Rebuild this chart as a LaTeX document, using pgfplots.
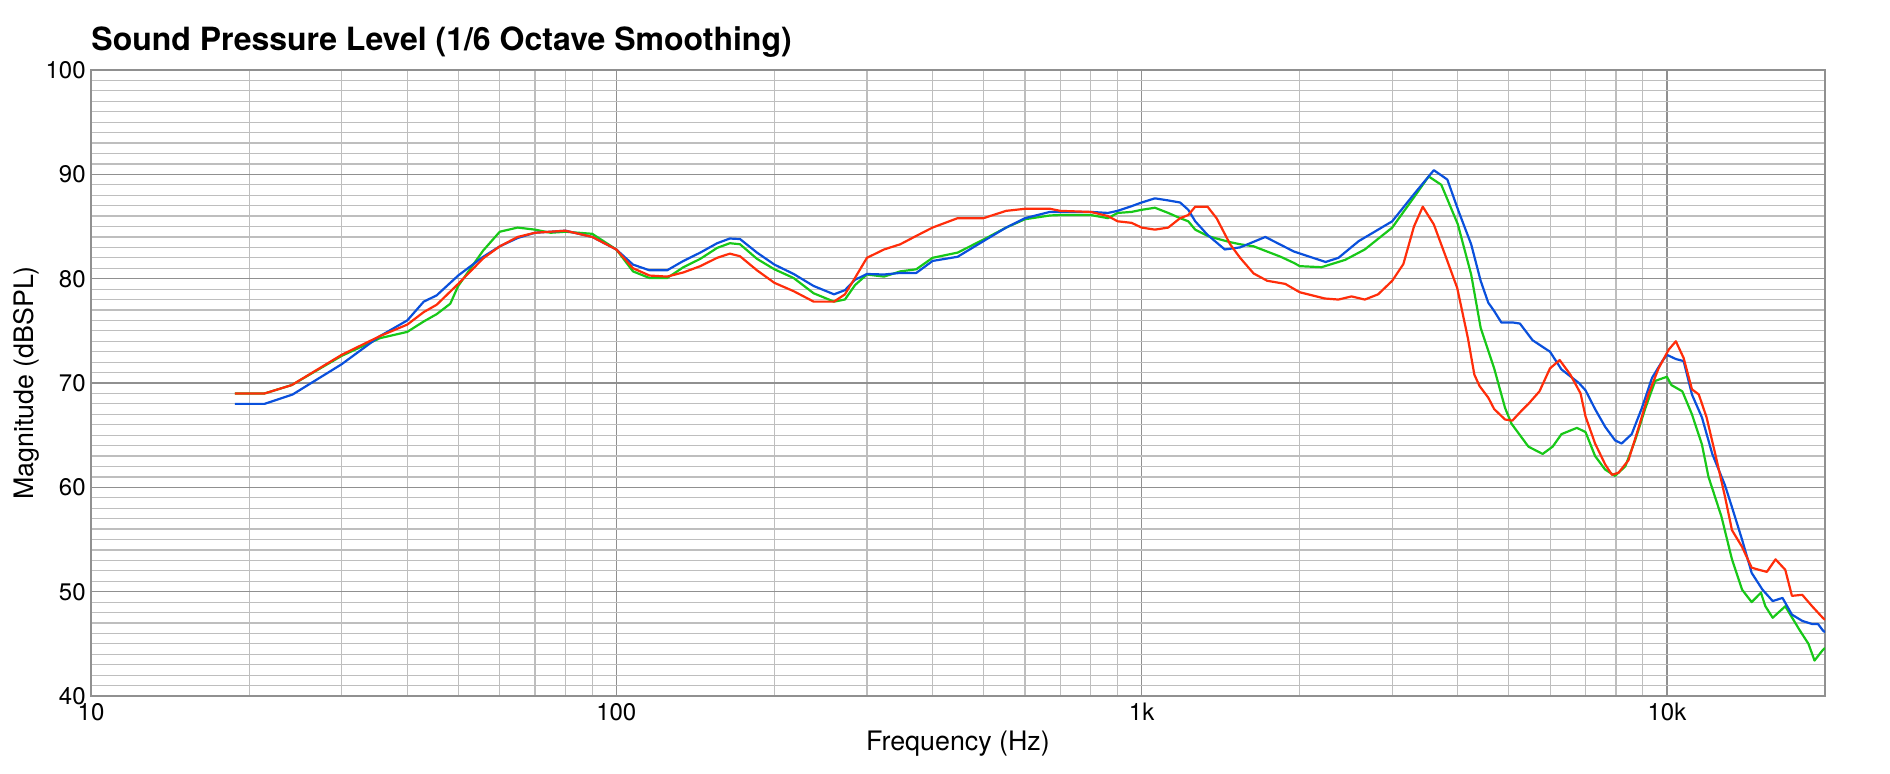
\documentclass[border=0pt]{standalone}
\usepackage{fontspec}
\setmainfont{TeX Gyre Heros}
\usepackage{pgfplots}
\pgfplotsset{compat=1.18}
\definecolor{cRed}{HTML}{FF2D0A}
\definecolor{cGreen}{HTML}{18C818}
\definecolor{cBlue}{HTML}{0A50DC}
\definecolor{gMaj}{HTML}{909090}
\definecolor{gMin}{HTML}{BEBEBE}
\begin{document}
\begin{tikzpicture}
\useasboundingbox (0,0) rectangle (945pt,386.5pt);
\begin{axis}[
  at={(45.5pt,38.5pt)}, anchor=south west,
  scale only axis, width=867pt, height=313pt,
  xmode=log, xmin=10, xmax=20000, ymin=40, ymax=100,
  xtick={10,100,1000,10000}, xticklabels={10,100,1k,10k},
  minor xtick={20,30,40,50,60,70,80,90,200,300,400,500,600,700,800,900,2000,3000,4000,5000,6000,7000,8000,9000},
  ytick={40,50,60,70,80,90,100}, minor ytick={41,42,43,44,45,46,47,48,49,51,52,53,54,55,56,57,58,59,61,62,63,64,65,66,67,68,69,71,72,73,74,75,76,77,78,79,81,82,83,84,85,86,87,88,89,91,92,93,94,95,96,97,98,99},
  grid=both,
  major grid style={draw=gMaj, line width=0.6pt},
  minor grid style={draw=gMin, line width=0.6pt},
  major tick length=0pt, minor tick length=0pt,
  axis line style={draw=gMaj, line width=1pt},
  tick label style={font=\fontsize{12}{14}\selectfont, text=black},
  xticklabel style={inner sep=0pt, yshift=-3.3pt},
  yticklabel style={inner sep=0pt, xshift=-2.5pt, /pgf/number format/assume math mode=true},
  title={Sound Pressure Level (1/6 Octave Smoothing)},
  title style={at={(axis description cs:0,1)}, anchor=base west, yshift=3.6pt, inner sep=0pt, font=\fontsize{16}{18}\selectfont\bfseries},
  xlabel={Frequency (Hz)},
  xlabel style={at={(axis description cs:0.5,0)}, anchor=base, yshift=-27.4pt, inner sep=0pt, font=\fontsize{13.4}{15}\selectfont},
  ylabel={Magnitude (dBSPL)},
  ylabel style={at={(axis description cs:0,0.5)}, anchor=base, yshift=29pt, inner sep=0pt, font=\fontsize{13.4}{15}\selectfont},
  every axis plot/.append style={line width=1.1pt, line join=round},
]
% green
\addplot[cGreen] coordinates {
(18.8,69.0) (21.4,69.0) (24.1,69.8) (30,72.6) (35.5,74.3) (40,74.9) (43,75.9) (45.5,76.6) (48.3,77.6) (50,79.3)
(55.8,82.7) (60,84.5) (64.9,84.9) (70,84.7) (75,84.4) (80,84.5) (90,84.3) (100,82.8) (107.6,80.7) (115.7,80.06)
(124.9,80.06) (134.2,81.1) (144.5,81.9) (155.6,82.95) (164.5,83.4) (172,83.3) (185.3,81.9) (200,80.9) (217.6,80.06)
(237.5,78.6) (259.7,77.8) (272.4,78.0) (284.9,79.4) (300,80.4) (323.4,80.2) (347.3,80.7) (372.4,80.9) (400,82.0)
(446.5,82.5) (500,83.75) (552.2,84.9) (600,85.7) (669.5,86.06) (700,86.1) (800,86.1) (863,85.8) (900,86.3)
(957,86.4) (1000,86.6) (1060,86.8) (1124,86.3) (1184,85.8) (1227,85.5) (1265,84.7) (1335,84.1) (1389,83.85)
(1474,83.5) (1540,83.3) (1634,83.1) (1734,82.6) (1840,82.1) (1952,81.5) (2000,81.2) (2200,81.1) (2440,81.8)
(2660,82.8) (3000,84.9) (3300,87.8) (3520,89.8) (3720,89.0) (4000,85.2) (4240,80.4) (4420,75.3) (4690,71.4)
(4920,67.6) (5060,66.1) (5450,63.9) (5800,63.2) (6060,63.9) (6300,65.1) (6740,65.7) (7000,65.3) (7300,63.0)
(7630,61.7) (7970,61.1) (8330,62.0) (8700,64.5) (9100,67.6) (9500,70.2) (10000,70.6) (10200,69.8) (10700,69.2)
(11160,67.0) (11660,64.1) (12000,61.0) (12700,57.2) (13300,53.1) (13900,50.2) (14500,49.0) (15100,49.9)
(15400,48.6) (15900,47.5) (16800,48.6) (17900,46.3) (18600,45.0) (19100,43.4) (19800,44.4) (20000,44.6)
};
% blue
\addplot[cBlue] coordinates {
(18.8,68.0) (21.4,68.0) (24.2,68.9) (30,71.8) (35.5,74.5) (40,76.0) (43,77.8) (45.5,78.4) (50,80.3) (55.8,82.1)
(60,83.1) (64.9,83.9) (70,84.4) (80,84.6) (90,84.0) (100,82.8) (107.6,81.35) (115.7,80.8) (124.9,80.8) (134.2,81.7)
(144.5,82.5) (155.6,83.4) (164.5,83.85) (172,83.8) (185.3,82.5) (200,81.35) (217.6,80.45) (237.5,79.3) (259.7,78.5)
(272.4,78.9) (284.9,79.9) (300,80.45) (323.4,80.4) (347.3,80.55) (372.4,80.55) (400,81.7) (446.5,82.1) (500,83.6)
(552.2,84.9) (600,85.8) (669.5,86.4) (700,86.4) (800,86.4) (863,86.3) (900,86.5) (957,86.95) (1000,87.3)
(1060,87.7) (1124,87.5) (1184,87.3) (1227,86.6) (1265,85.5) (1335,84.2) (1440,82.8) (1540,83.0) (1720,84.0)
(1950,82.6) (2240,81.6) (2370,82.0) (2590,83.6) (2820,84.7) (3000,85.5) (3300,88.1) (3600,90.4) (3820,89.5)
(4010,86.5) (4240,83.3) (4420,79.8) (4570,77.7) (4690,76.9) (4840,75.8) (5090,75.8) (5250,75.7) (5550,74.1)
(5990,73.0) (6300,71.3) (6800,70.0) (7000,69.3) (7300,67.5) (7630,65.8) (7970,64.5) (8200,64.2) (8570,65.1)
(8960,67.6) (9370,70.5) (9800,72.1) (10000,72.7) (10400,72.3) (10760,72.1) (11160,68.9) (11660,66.7) (12200,63.2)
(12900,60.2) (13300,58.1) (13900,55.0) (14500,51.8) (15200,50.2) (15900,49.1) (16600,49.4) (17300,47.8)
(18100,47.2) (18900,46.9) (19400,46.9) (19800,46.3) (20000,46.1)
};
% red
\addplot[cRed] coordinates {
(18.8,69.0) (21.4,69.0) (24.1,69.8) (30,72.7) (35.5,74.5) (40,75.6) (43,76.8) (45.5,77.5) (50,79.5) (55.8,81.95)
(60,83.1) (64.9,84.0) (70,84.4) (80,84.6) (90,84.0) (100,82.8) (107.6,81.0) (115.7,80.3) (124.9,80.2) (134.2,80.6)
(144.5,81.2) (155.6,82.0) (164.5,82.4) (172,82.15) (185.3,80.8) (200,79.6) (217.6,78.8) (237.5,77.8) (259.7,77.8)
(272.4,78.5) (284.9,80.1) (300,82.0) (323.4,82.8) (347.3,83.3) (372.4,84.1) (400,84.9) (446.5,85.8) (500,85.8)
(552.2,86.5) (600,86.7) (669.5,86.7) (700,86.5) (800,86.4) (863,86.0) (900,85.5) (957,85.35) (1000,84.9)
(1060,84.7) (1124,84.9) (1184,85.8) (1227,86.1) (1265,86.9) (1335,86.9) (1389,85.8) (1474,83.3) (1540,82.0)
(1634,80.5) (1734,79.8) (1877,79.5) (2000,78.7) (2232,78.1) (2370,78.0) (2510,78.3) (2660,78.0) (2820,78.5)
(3000,79.8) (3150,81.4) (3300,85.0) (3430,86.9) (3600,85.2) (3820,81.7) (3990,79.1) (4180,74.3) (4300,70.8)
(4400,69.7) (4570,68.6) (4690,67.5) (4920,66.5) (5080,66.4) (5300,67.4) (5450,68.0) (5720,69.2) (5990,71.4)
(6250,72.2) (6550,70.8) (6850,69.0) (7000,66.8) (7300,64.2) (7630,62.2) (7860,61.2) (8090,61.4) (8450,62.6)
(8830,65.7) (9220,68.9) (9640,71.4) (10080,73.2) (10400,74.0) (10760,72.4) (11160,69.4) (11500,68.9) (11900,66.7)
(12400,62.9) (12900,59.1) (13300,55.9) (13900,54.3) (14500,52.3) (14960,52.1) (15500,51.9) (16100,53.1)
(16800,52.1) (17300,49.6) (18100,49.7) (18900,48.6) (19800,47.5) (20000,47.3)
};
\end{axis}
\end{tikzpicture}
\end{document}
